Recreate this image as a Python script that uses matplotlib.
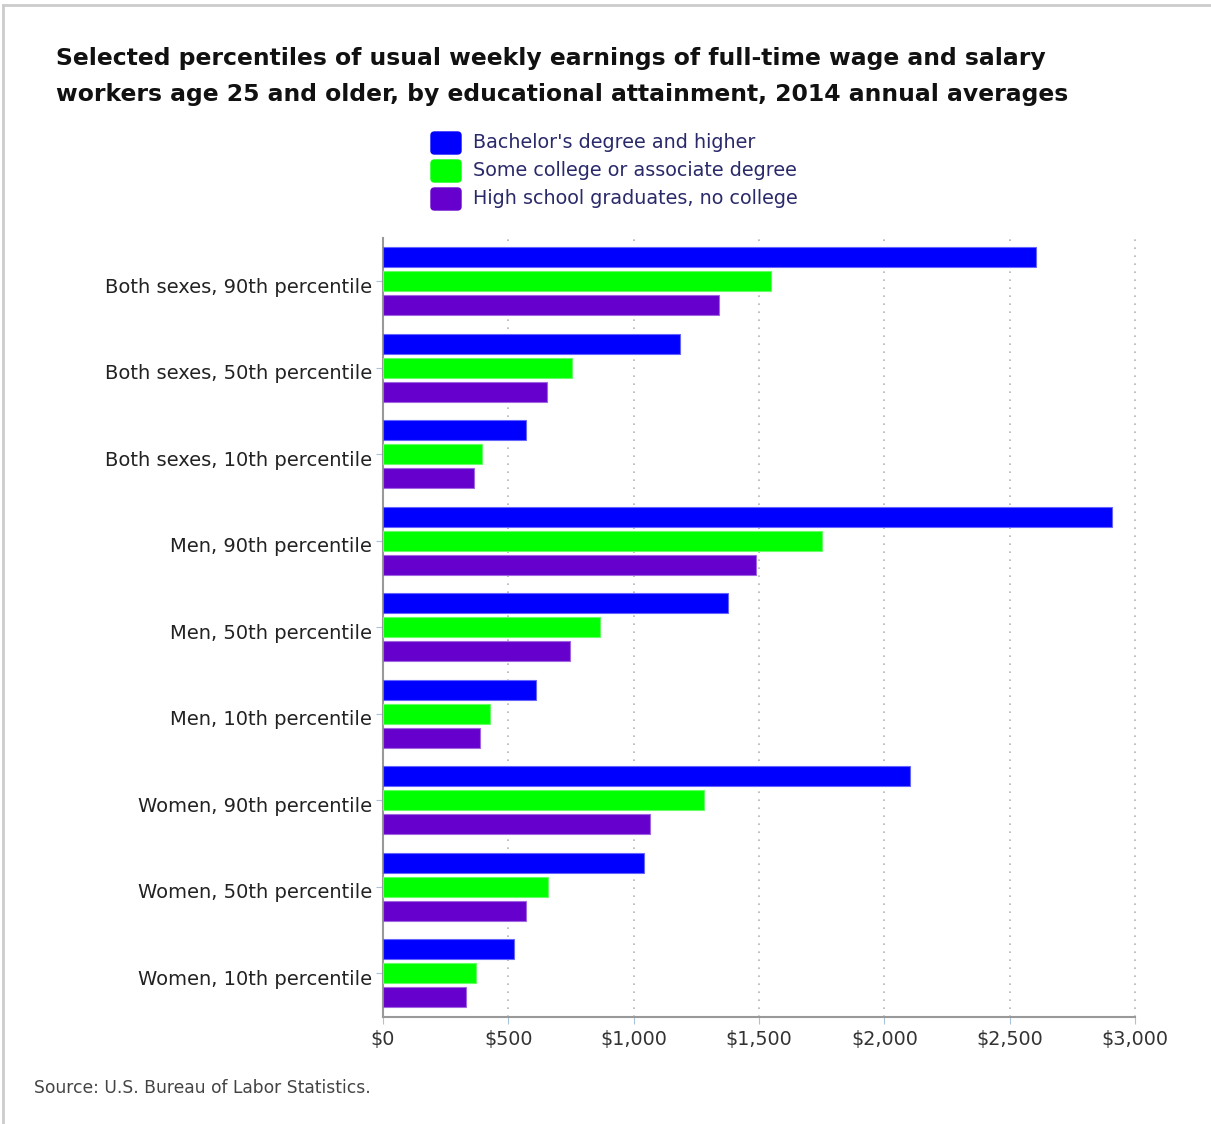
import matplotlib
matplotlib.use("Agg")
import matplotlib.pyplot as plt
import matplotlib.transforms as mtransforms
from matplotlib.lines import Line2D
from matplotlib.patches import FancyBboxPatch
import numpy as np

categories = [
    "Both sexes, 90th percentile",
    "Both sexes, 50th percentile",
    "Both sexes, 10th percentile",
    "Men, 90th percentile",
    "Men, 50th percentile",
    "Men, 10th percentile",
    "Women, 90th percentile",
    "Women, 50th percentile",
    "Women, 10th percentile",
]
series_names = [
    "Bachelor's degree and higher",
    "Some college or associate degree",
    "High school graduates, no college",
]
bachelors = [2605, 1185, 570, 2908, 1376, 610, 2102, 1041, 522]
some_college = [1548, 754, 395, 1751, 866, 427, 1280, 658, 371]
high_school = [1340, 654, 363, 1488, 746, 387, 1065, 570, 331]
x_ticks = [0, 500, 1000, 1500, 2000, 2500, 3000]
x_tick_labels = ["$0", "$500", "$1,000", "$1,500", "$2,000", "$2,500", "$3,000"]

colors = ["#0000FF", "#00FF00", "#6600CC"]
edges = ["#6666FF", "#66FF66", "#A066E0"]

W, H = 1211, 1124
fig = plt.figure(figsize=(W / 100, H / 100), dpi=100)

ax = fig.add_axes([383 / W, 1 - 1016.5 / H, (1135 - 383) / W, (1016.5 - 238) / H])

y = np.arange(len(categories))
off = 0.277
bh = 0.232
for i, (vals, c, ec) in enumerate(zip([bachelors, some_college, high_school], colors, edges)):
    ax.barh(y + (i - 1) * off, vals, height=bh, color=c, edgecolor=ec, linewidth=0.8, zorder=3)

ax.set_ylim(len(categories) - 0.5, -0.5)
ax.set_xlim(0, 3000)
ax.set_yticks(y)
ax.set_yticklabels(categories, fontsize=14, color="#222222", family="DejaVu Sans")
ax.set_xticks(x_ticks)
ax.set_xticklabels(x_tick_labels, fontsize=13.8, color="#333333", family="DejaVu Sans")
ax.tick_params(axis="y", length=5, color="#a8c4dc", pad=3)
ax.tick_params(axis="x", length=5, color="#a8c4dc", pad=5)

shift = mtransforms.ScaledTranslation(0, -4 / 100, fig.dpi_scale_trans)
for lbl in ax.get_yticklabels():
    lbl.set_transform(lbl.get_transform() + shift)

for xv in x_ticks[1:]:
    ax.axvline(xv, color="#b4b4b4", linestyle=(0, (1, 3.8)), linewidth=1.2, zorder=1, clip_on=False)

for s in ["top", "right"]:
    ax.spines[s].set_visible(False)
ax.spines["left"].set_color("#999999")
ax.spines["bottom"].set_color("#999999")
ax.spines["left"].set_linewidth(1.5)
ax.spines["bottom"].set_linewidth(1.5)

# title
fig.text(56 / W, 1 - 58 / H, "Selected percentiles of usual weekly earnings of full-time wage and salary",
         fontsize=16.9, fontweight="bold", family="DejaVu Sans", ha="left", va="center", color="#111111")
fig.text(56 / W, 1 - 94 / H, "workers age 25 and older, by educational attainment, 2014 annual averages",
         fontsize=16.9, fontweight="bold", family="DejaVu Sans", ha="left", va="center", color="#111111")

# legend
for i, (name, c) in enumerate(zip(series_names, colors)):
    yc = 143 + i * 28
    fig.patches.append(FancyBboxPatch((431 / W, 1 - (yc + 11) / H), 30 / W, 22 / H,
                                      boxstyle="round,pad=0,rounding_size=0.003",
                                      transform=fig.transFigure, facecolor=c, edgecolor=c))
    fig.text(473 / W, 1 - yc / H, name, fontsize=13.8, color="#2a2a6a", family="DejaVu Sans",
             ha="left", va="center")

fig.text(34 / W, 1 - 1088 / H, "Source: U.S. Bureau of Labor Statistics.", fontsize=12.3,
         color="#444444", family="DejaVu Sans", ha="left", va="center")

# frame lines
fig.add_artist(Line2D([3 / W, 1], [1 - 5 / H, 1 - 5 / H], transform=fig.transFigure, color="#cccccc", lw=2))
fig.add_artist(Line2D([3 / W, 3 / W], [0, 1 - 5 / H], transform=fig.transFigure, color="#cccccc", lw=2))

fig.savefig("out.png", dpi=100)
